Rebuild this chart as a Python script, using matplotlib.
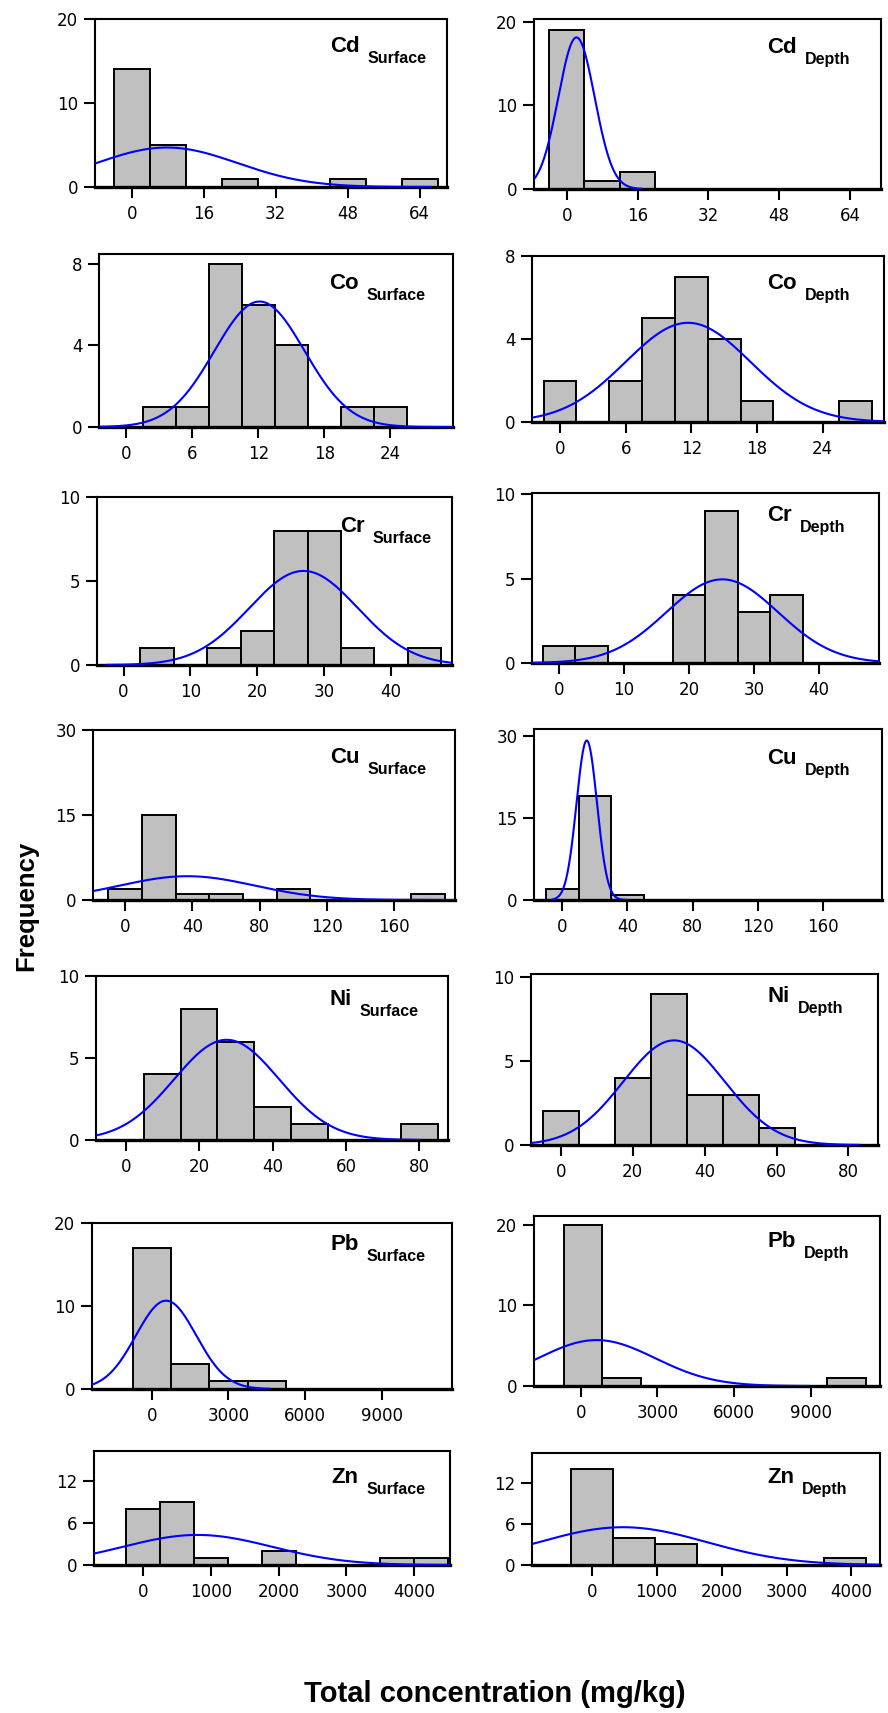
import numpy as np
import matplotlib; matplotlib.use("Agg")
import matplotlib.pyplot as plt

W, H = 888, 1713
plt.rcParams.update({'font.family': 'DejaVu Sans', 'font.size': 12,
                     'xtick.labelsize': 12, 'ytick.labelsize': 12})

# ---- data: bin centres / counts per panel ----
cd_s_x = [0, 8, 24, 48, 64];            cd_s_n = [14, 5, 1, 1, 1]
cd_d_x = [0, 8, 16];                    cd_d_n = [19, 1, 2]
co_s_x = [3, 6, 9, 12, 15, 21, 24];     co_s_n = [1, 1, 8, 6, 4, 1, 1]
co_d_x = [0, 6, 9, 12, 15, 18, 27];     co_d_n = [2, 2, 5, 7, 4, 1, 1]
cr_s_x = [5, 15, 20, 25, 30, 35, 45];   cr_s_n = [1, 1, 2, 8, 8, 1, 1]
cr_d_x = [0, 5, 20, 25, 30, 35];        cr_d_n = [1, 1, 4, 9, 3, 4]
cu_s_x = [0, 20, 40, 60, 100, 180];     cu_s_n = [2, 15, 1, 1, 2, 1]
cu_d_x = [0, 20, 40];                   cu_d_n = [2, 19, 1]
ni_s_x = [10, 20, 30, 40, 50, 80];      ni_s_n = [4, 8, 6, 2, 1, 1]
ni_d_x = [0, 20, 30, 40, 50, 60];       ni_d_n = [2, 4, 9, 3, 3, 1]
pb_s_x = [0, 1500, 3000, 4500];         pb_s_n = [17, 3, 1, 1]
pb_d_x = [100, 1600, 10400];            pb_d_n = [20, 1, 1]
zn_s_x = [0, 500, 1000, 2000, 3750, 4250]; zn_s_n = [8, 9, 1, 2, 1, 1]
zn_d_x = [0, 650, 1300, 3900];          zn_d_n = [14, 4, 3, 1]

elements = ['Cd', 'Co', 'Cr', 'Cu', 'Ni', 'Pb', 'Zn']
bin_w = [8, 3, 5, 20, 10, 1500, 500]
bin_w_depth = [8, 3, 5, 20, 10, 1500, 650]
xticks = [[0, 16, 32, 48, 64], [0, 6, 12, 18, 24], [0, 10, 20, 30, 40], [0, 40, 80, 120, 160],
          [0, 20, 40, 60, 80], [0, 3000, 6000, 9000], [0, 1000, 2000, 3000, 4000]]
yticks = [[0, 10, 20], [0, 4, 8], [0, 5, 10], [0, 15, 30], [0, 5, 10], [0, 10, 20], [0, 6, 12]]

# normal curve overlay: mean, sd, peak height, drawn from x0 to x1
fit_s = [(7.8, 15.7, 4.7, -8.2, 66.5), (12.1, 4.1, 6.15, -2.5, 29.7), (26.9, 8.1, 5.6, -2.5, 49.1),
         (37, 40, 4.2, -19, 196), (27.5, 14.3, 6.11, -8, 80), (560, 1180, 10.64, -2340, 4585),
         (800, 1100, 4.3, -730, 4530)]
fit_d = [(2.2, 4.1, 18.1, -7.4, 16.8), (11.7, 5.7, 4.78, -2.56, 29.6), (25.1, 8.6, 4.95, -4, 49.2),
         (15, 6.3, 29.1, -6.1, 40), (31.5, 14.1, 6.24, -8, 83), (620, 2290, 5.7, -1830, 8900),
         (480, 1290, 5.5, -920, 4440)]

xlim_s = [(-8.2, 70.1), (-2.5, 29.7), (-3.98, 49.1), (-19, 196), (-8.1, 87.8), (-2340, 11750), (-730, 4530)]
xlim_d = [(-7.4, 71.0), (-2.56, 29.6), (-4.15, 49.2), (-17.4, 196.3), (-8.25, 88.2), (-1830, 11710), (-920, 4440)]
ylim_s = [20, 8.48, 10, 30, 10, 20, 16.3]
ylim_d = [20.3, 8.0, 10.06, 31.2, 10.2, 21.1, 16.3]

surf = [(cd_s_x, cd_s_n), (co_s_x, co_s_n), (cr_s_x, cr_s_n), (cu_s_x, cu_s_n),
        (ni_s_x, ni_s_n), (pb_s_x, pb_s_n), (zn_s_x, zn_s_n)]
depth = [(cd_d_x, cd_d_n), (co_d_x, co_d_n), (cr_d_x, cr_d_n), (cu_d_x, cu_d_n),
         (ni_d_x, ni_d_n), (pb_d_x, pb_d_n), (zn_d_x, zn_d_n)]

# ---- layout in pixels: left, top, right, bottom(y=0 line) ----
box_s = [(95, 19, 447, 187), (99, 254, 453, 427), (97, 497, 452, 665), (93, 730, 455, 900),
         (96, 976, 448, 1140), (92, 1223, 452, 1389), (94, 1451, 450, 1565)]
box_d = [(534, 19, 881, 189), (532, 256, 884, 422), (532, 493, 879, 663), (534, 729, 882, 900),
         (531, 974, 878, 1145), (534, 1216, 880, 1386), (532, 1453, 880, 1565)]
lab_s = [(330, 52), (329, 289), (340, 532), (330, 763), (329, 1005), (330, 1250), (331, 1483)]
lab_d = [(767, 53), (767, 289), (767, 521), (767, 764), (767, 1002), (767, 1247), (767, 1483)]

fig = plt.figure(figsize=(W / 100, H / 100), dpi=100)


def panel(box, data, bw, fit, xl, yt_top, xt, yt, lab, el, sub):
    l, t, r, b = box
    ax = fig.add_axes([l / W, 1 - b / H, (r - l) / W, (b - t) / H])
    x, n = data
    ax.bar(x, n, width=bw, color='#c0c0c0', edgecolor='black', linewidth=1.4, zorder=2)
    m, s, pk, x0, x1 = fit
    xs = np.linspace(x0, x1, 400)
    ax.plot(xs, pk * np.exp(-0.5 * ((xs - m) / s) ** 2), color='#0000ff', lw=1.5, zorder=3)
    ax.set_xlim(*xl); ax.set_ylim(0, yt_top)
    ax.set_xticks(xt); ax.set_yticks(yt)
    for sp in ax.spines.values():
        sp.set_linewidth(1.5)
    ax.spines['bottom'].set_linewidth(2.4)
    ax.tick_params(direction='out', length=8, width=1.5, pad=4)
    ax.tick_params(axis='x', pad=5)
    tx = fig.text(lab[0] / W, 1 - lab[1] / H, el, ha='left', va='baseline',
                  family='Liberation Sans', weight='bold', fontsize=16)
    ax.annotate(sub, xy=(1, 0), xycoords=tx, xytext=(6, -4.3), textcoords='offset points',
                ha='left', va='baseline', family='Liberation Sans', weight='bold', fontsize=11.5)
    return ax


for i, el in enumerate(elements):
    panel(box_s[i], surf[i], bin_w[i], fit_s[i], xlim_s[i], ylim_s[i], xticks[i], yticks[i],
          lab_s[i], el, 'Surface')
    panel(box_d[i], depth[i], bin_w_depth[i], fit_d[i], xlim_d[i], ylim_d[i], xticks[i], yticks[i],
          lab_d[i], el, 'Depth')

fig.text(26 / W, 1 - 906 / H, 'Frequency', rotation=90, ha='center', va='center',
         family='Liberation Sans', weight='bold', fontsize=18.5)
fig.text(495 / W, 1 - 1694 / H, 'Total concentration (mg/kg)', ha='center', va='center',
         family='Liberation Sans', weight='bold', fontsize=21)

fig.savefig('out.png', dpi=100)
